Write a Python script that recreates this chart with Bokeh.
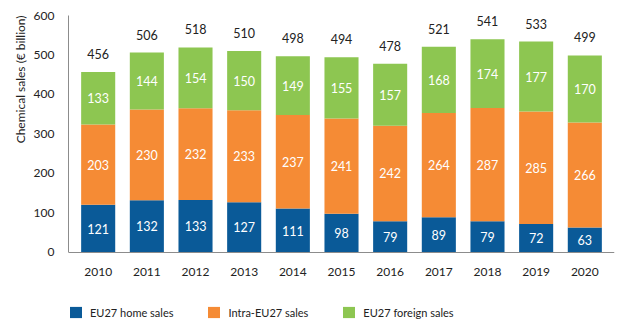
import numpy as np
from bokeh.plotting import figure
from bokeh.models import ColumnDataSource, Legend, LegendItem, Title
from bokeh.core.properties import value
from bokeh.embed import file_html
from bokeh.resources import INLINE

years = ["2010", "2011", "2012", "2013", "2014", "2015", "2016", "2017", "2018", "2019", "2020"]
home = [121, 132, 133, 127, 111, 98, 79, 89, 79, 72, 63]
intra = [203, 230, 232, 233, 237, 241, 242, 264, 287, 285, 266]
foreign = [133, 144, 154, 150, 149, 155, 157, 168, 174, 177, 170]
totals = [456, 506, 518, 510, 498, 494, 478, 521, 541, 533, 499]
series_names = ["EU27 home sales", "Intra-EU27 sales", "EU27 foreign sales"]
colors = ["#0a5a98", "#f58b35", "#8dc651"]
FONT = "Lato"

home_a = np.array(home)
intra_a = np.array(intra)
foreign_a = np.array(foreign)

src = ColumnDataSource(dict(
    year=years, home=home, intra=intra, foreign=foreign,
    home_mid=home_a / 2,
    intra_mid=home_a + intra_a / 2,
    foreign_mid=home_a + intra_a + foreign_a / 2,
    top=home_a + intra_a + foreign_a,
    home_t=[str(v) for v in home], intra_t=[str(v) for v in intra],
    foreign_t=[str(v) for v in foreign], tot_t=[str(v) for v in totals],
))

p = figure(x_range=years, y_range=(-185, 600), width=644, height=330,
           output_backend="svg", toolbar_location=None,
           min_border_left=68, min_border_right=30, min_border_top=15, min_border_bottom=5)

r = p.vbar_stack(["home", "intra", "foreign"], x="year", width=0.7, color=colors,
                 source=src, line_color=None)

for col, tcol in [("home_mid", "home_t"), ("intra_mid", "intra_t"), ("foreign_mid", "foreign_t")]:
    p.text(x="year", y=col, text=tcol, source=src, text_color="white",
           text_align="center", text_baseline="middle", text_font=value(FONT),
           text_font_size="12.5px")

p.text(x="year", y="top", text="tot_t", source=src, text_color="#222222",
       text_align="center", text_baseline="middle", y_offset=-18, text_font=value(FONT),
       text_font_size="12.5px")

p.xgrid.grid_line_color = None
p.ygrid.grid_line_color = None
p.outline_line_color = None
p.x_range.range_padding = 0.02

for ax in (p.xaxis[0], p.yaxis[0]):
    ax.axis_line_color = "#8c8c8c"
    ax.major_tick_line_color = None
    ax.minor_tick_line_color = None
    ax.major_label_text_font = FONT
    ax.major_label_text_font_size = "12px"
    ax.major_label_text_color = "#222222"
p.yaxis.major_label_standoff = 8
p.xaxis.major_label_standoff = 10
p.xaxis.fixed_location = 0
p.yaxis.bounds = (0, 600)
p.yaxis.ticker = [0, 100, 200, 300, 400, 500, 600]

p.add_layout(Title(text="Chemical sales (€ billion)", align="right", text_font=FONT,
                   text_font_size="12px", text_font_style="normal", text_color="#222222",
                   standoff=6), "left")

legend = Legend(items=[LegendItem(label=n, renderers=[rr]) for n, rr in zip(series_names, r)],
                location=(0, 6), orientation="horizontal", spacing=33,
                label_text_font=FONT, label_text_font_size="11px", label_text_color="#222222",
                glyph_width=15, glyph_height=14, label_standoff=7,
                padding=0, margin=0, border_line_color=None, background_fill_alpha=0)
p.add_layout(legend, "center")

open("out.html", "w").write(file_html(p, INLINE))
